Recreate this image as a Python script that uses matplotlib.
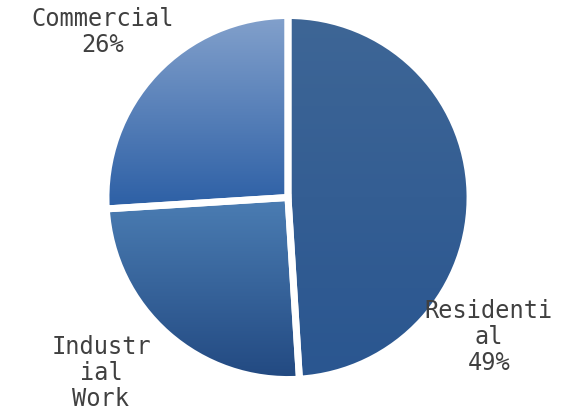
import matplotlib
matplotlib.use("Agg")
import matplotlib.pyplot as plt
import numpy as np
from matplotlib.colors import LinearSegmentedColormap

# data
labels = ["Residenti\nal\n49%", "Industr\nial\nWork", "Commercial\n26%"]
values = [49, 25, 26]
top_colors = ["#3e6696", "#4b7db3", "#83a1cc"]
bottom_colors = ["#2a5690", "#224981", "#2c5fa5"]

W, H = 562, 411
fig = plt.figure(figsize=(W / 100, H / 100), dpi=100)
ax = fig.add_axes([0, 0, 1, 1])

cx, cy, r = 288, H - 197.5, 182
wedges, _ = ax.pie(values, startangle=90, counterclock=False, radius=r,
                   center=(cx, cy), explode=[0.028, 0.022, 0.022],
                   wedgeprops=dict(edgecolor="white", linewidth=5),
                   frame=True)
ax.set_xlim(0, W)
ax.set_ylim(0, H)
ax.set_aspect("equal")
ax.axis("off")

# vertical gradient fill for each wedge
renderer = fig.canvas.get_renderer()
inv = ax.transData.inverted()
for w, c0, c1 in zip(wedges, top_colors, bottom_colors):
    bb = w.get_window_extent(renderer)
    (x0, y0), (x1, y1) = inv.transform([[bb.x0, bb.y0], [bb.x1, bb.y1]])
    cmap = LinearSegmentedColormap.from_list("g", [c1, c0])
    grad = np.linspace(0, 1, 256).reshape(-1, 1)
    w.set_facecolor("none")
    im = ax.imshow(grad, cmap=cmap, origin="lower", aspect="auto",
                   extent=(x0, x1, y0, y1), zorder=w.get_zorder() - 0.5)
    im.set_clip_path(w)
    w.set_zorder(w.get_zorder() + 1)

ax.set_xlim(0, W)
ax.set_ylim(0, H)

font = dict(family="DejaVu Sans Mono", fontsize=17, color="#404040",
            ha="center", va="center", linespacing=1.12)
ax.text(489, H - 337, labels[0], **font)
ax.text(101, H - 373, labels[1], **font)
ax.text(103, H - 32, labels[2], **font)

fig.savefig("out.png", dpi=100)
